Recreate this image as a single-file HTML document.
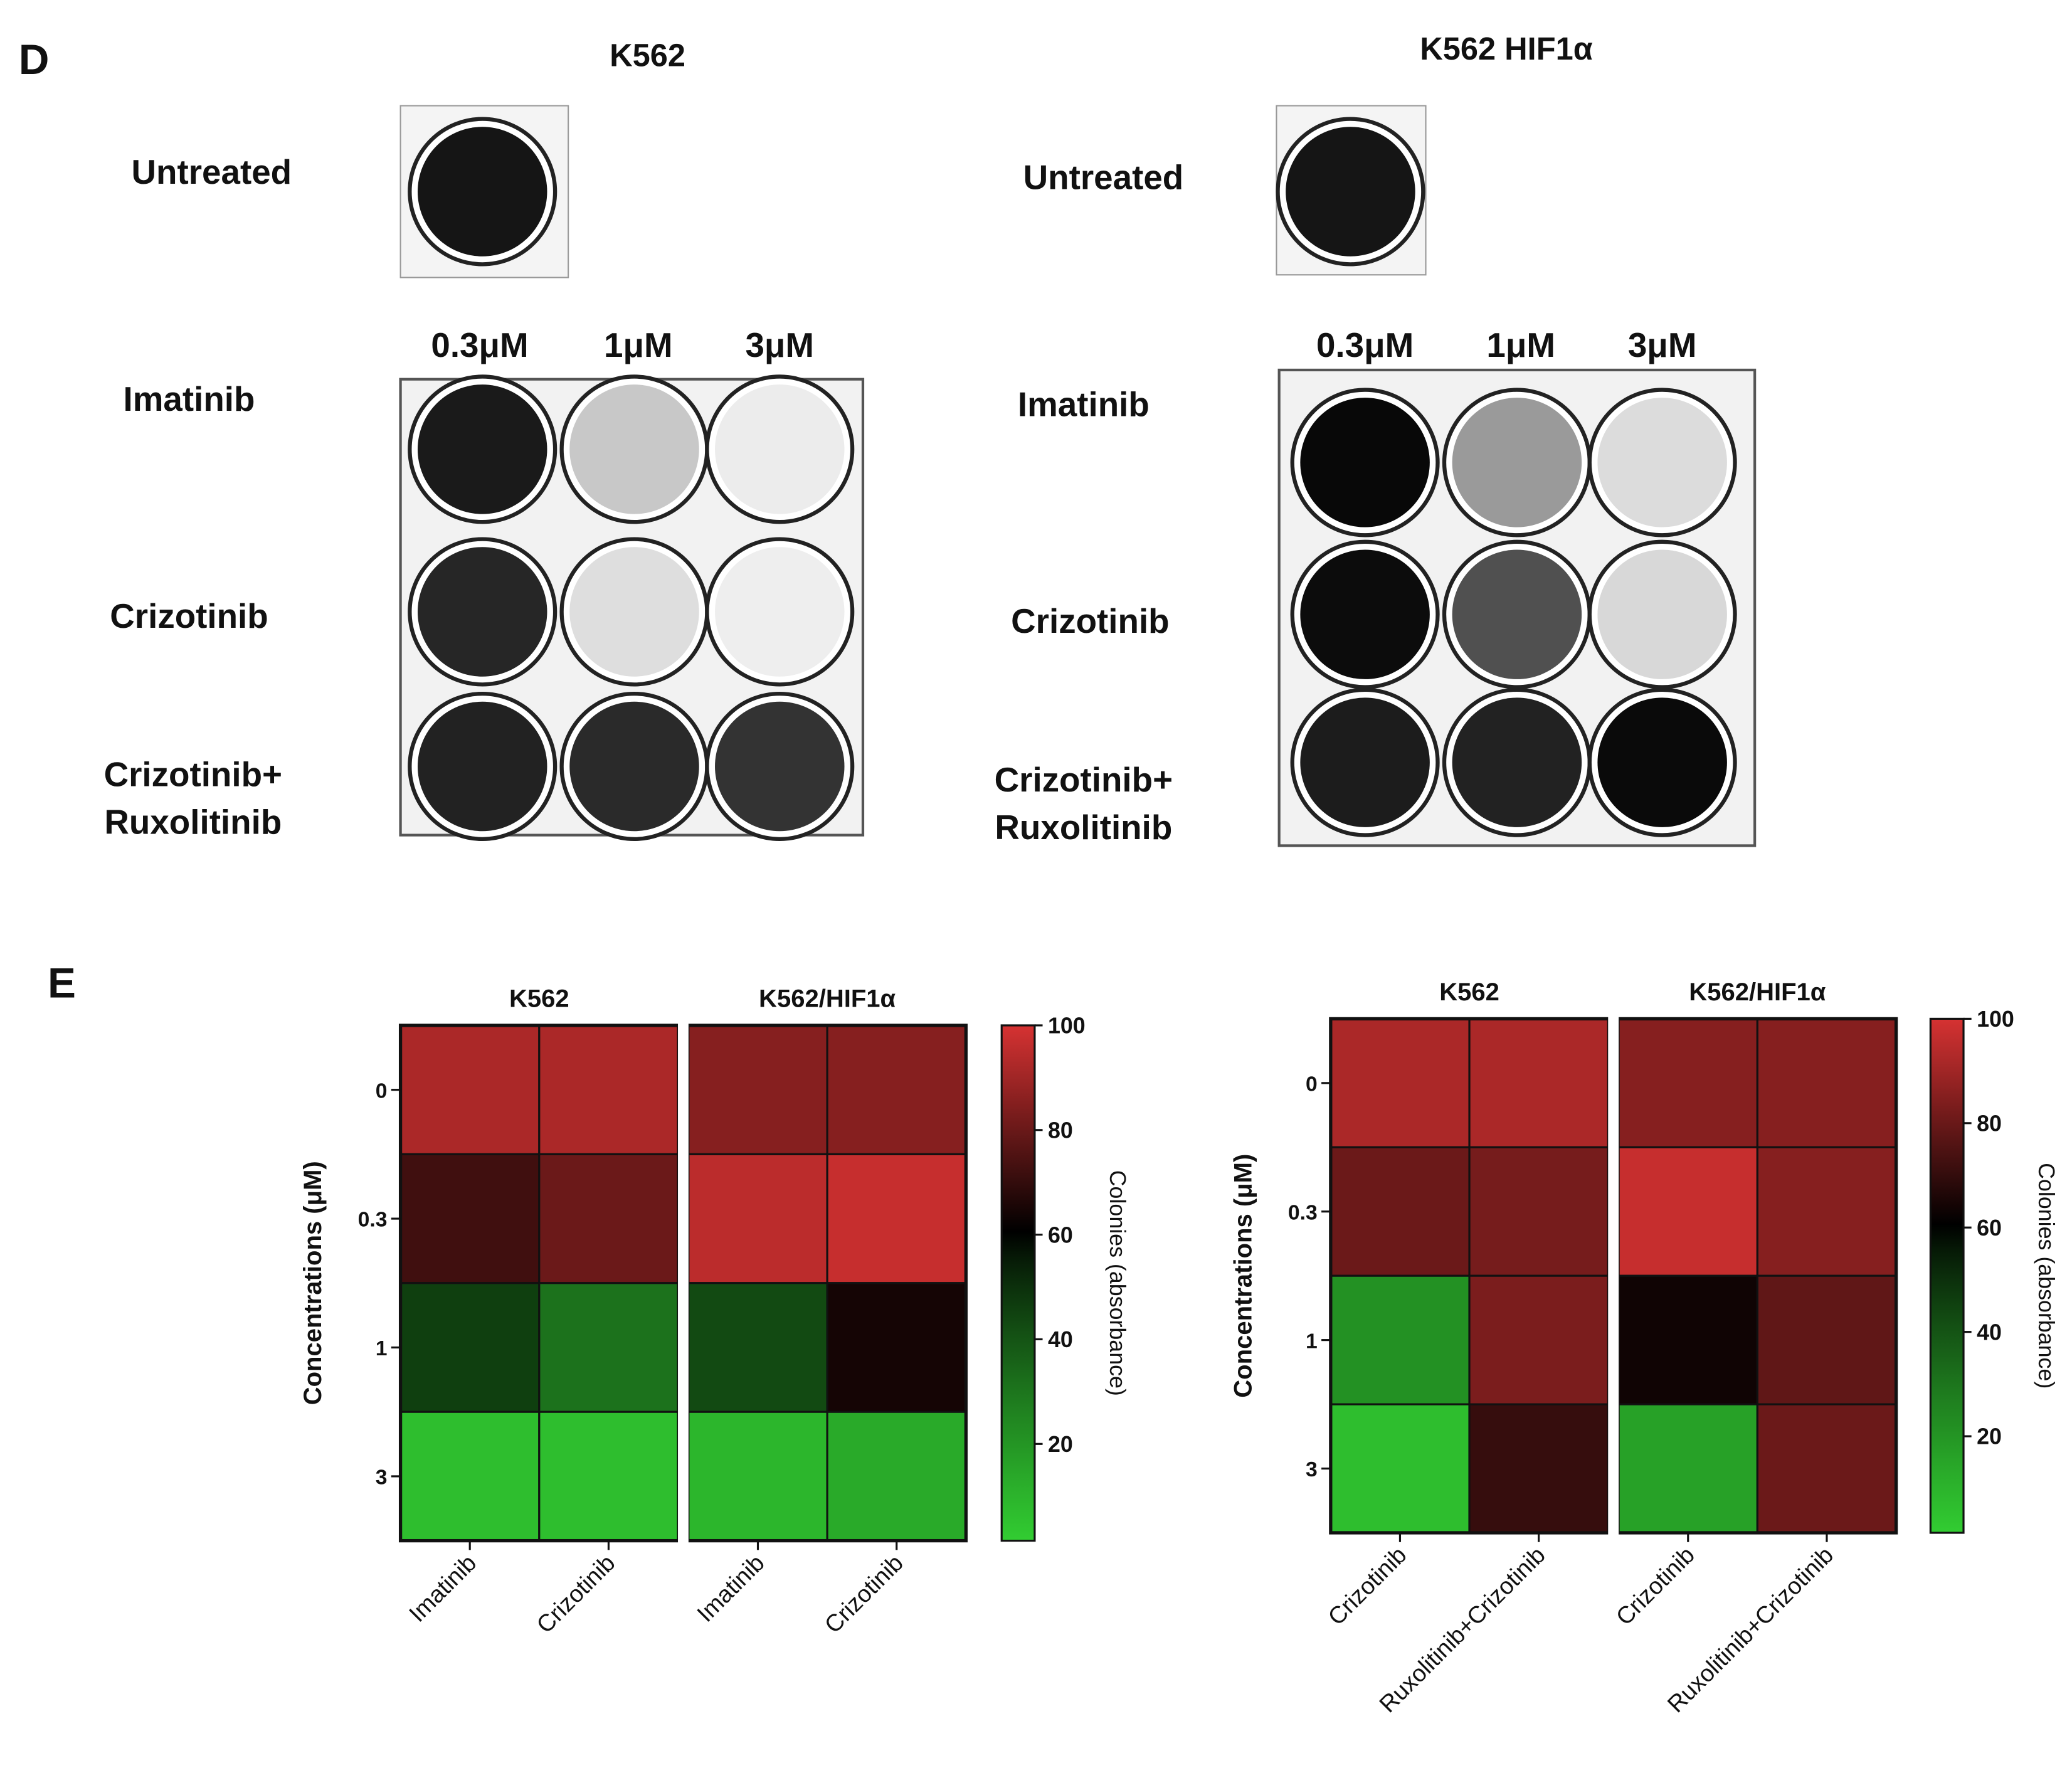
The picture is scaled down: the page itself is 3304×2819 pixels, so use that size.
<!DOCTYPE html>
<html><head><meta charset="utf-8"><style>
html,body{margin:0;padding:0;background:#fff}
svg{display:block}
text{font-family:"Liberation Sans",sans-serif}
</style></head><body>
<svg id="fig" width="3304" height="2819" viewBox="0 0 1568 1338" xmlns="http://www.w3.org/2000/svg">
<rect width="1568" height="1338" fill="#fff"/>
<g font-weight="bold" fill="#111">
<text x="14" y="56" font-size="32">D</text>
<text x="490" y="50" font-size="24" text-anchor="middle">K562</text>
<text x="1140" y="45" font-size="24" text-anchor="middle">K562 HIF1α</text>
<g font-size="26" text-anchor="middle">
<text x="160" y="139">Untreated</text>
<text x="835" y="143">Untreated</text>
<text x="143" y="311">Imatinib</text>
<text x="143" y="475">Crizotinib</text>
<text x="146" y="595">Crizotinib+</text>
<text x="146" y="631">Ruxolitinib</text>
<text x="820" y="315">Imatinib</text>
<text x="825" y="479">Crizotinib</text>
<text x="820" y="599">Crizotinib+</text>
<text x="820" y="635">Ruxolitinib</text>
<text x="363" y="270">0.3μM</text>
<text x="483" y="270">1μM</text>
<text x="590" y="270">3μM</text>
<text x="1033" y="270">0.3μM</text>
<text x="1151" y="270">1μM</text>
<text x="1258" y="270">3μM</text>
</g>
<text x="36" y="755" font-size="32">E</text>
</g>
<g id="wells"></g>
<g id="heat"></g>
</svg>
<script>
const NS="http://www.w3.org/2000/svg";
const svg=document.getElementById('fig');
function mk(tag,attrs,parent){const e=document.createElementNS(NS,tag);for(const k in attrs)e.setAttribute(k,attrs[k]);(parent||svg).appendChild(e);return e;}
const wg=document.getElementById('wells');
mk('rect',{x:303,y:80,width:127,height:130,fill:'#f4f4f4',stroke:'#999','stroke-width':1},wg);
mk('rect',{x:966,y:80,width:113,height:128,fill:'#f4f4f4',stroke:'#999','stroke-width':1},wg);
mk('rect',{x:303,y:287,width:350,height:345,fill:'#f2f2f2',stroke:'#555','stroke-width':2},wg);
mk('rect',{x:968,y:280,width:360,height:360,fill:'#f2f2f2',stroke:'#555','stroke-width':2},wg);
const wellList=[[365,145,'#151515'],[1022,145,'#151515'],
[365,340,'#1a1a1a'],[480,340,'#c8c8c8'],[590,340,'#ececec'],
[365,463,'#262626'],[480,463,'#dedede'],[590,463,'#eeeeee'],
[365,580,'#222'],[480,580,'#2a2a2a'],[590,580,'#333'],
[1033,350,'#080808'],[1148,350,'#9a9a9a'],[1258,350,'#dcdcdc'],
[1033,465,'#0c0c0c'],[1148,465,'#505050'],[1258,465,'#d8d8d8'],
[1033,577,'#1c1c1c'],[1148,577,'#222'],[1258,577,'#0a0a0a']];
wellList.forEach((w,i)=>{
 const c=mk('circle',{cx:w[0],cy:w[1],r:55,fill:'#fff',stroke:'#222','stroke-width':3},wg);
 
 
 const d=mk('circle',{cx:w[0],cy:w[1],r:49,fill:w[2]},wg);
 
 
});

const rowLabels=['0','0.3','1','3'];
const cbTicks=[100,80,60,40,20];
const leftGroups=['K562','K562/HIF1α'];
const leftCols=['Imatinib','Crizotinib','Imatinib','Crizotinib'];
const leftValues=[[92,92,85,85],[72,80,95,97],[45,30,42,64],[5,5,8,12]];
const rightGroups=['K562','K562/HIF1α'];
const rightCols=['Crizotinib','Ruxolitinib+Crizotinib','Crizotinib','Ruxolitinib+Crizotinib'];
const rightValues=[[92,92,85,85],[80,82,97,85],[20,83,63,78],[5,70,15,80]];

function color(v){
 const R=[214,50,50],G=[50,205,50];
 let c;
 if(v>=60){const t=(v-60)/40;c=R.map(x=>Math.round(x*t));}
 else{const t=(60-v)/60;c=G.map(x=>Math.round(x*Math.pow(t,0.85)));}
 return `rgb(${c[0]},${c[1]},${c[2]})`;
}
const hg=document.getElementById('heat');
function heatmap(o){
 const {x0,y0,cw,ch,gap,cols,groups,vals,cbx,name}=o;
 const colX=j=>x0+j*cw+(j>=2?gap:0);
 const rowY=i=>y0+i*ch;
 const H=ch*4;
 vals.forEach((row,i)=>row.forEach((v,j)=>{
  const r=mk('rect',{x:colX(j),y:rowY(i),width:cw,height:ch,fill:color(v),stroke:'#111','stroke-width':1.5},hg);
  
  
 }));
 const fr=mk('rect',{x:x0,y:y0,width:4*cw+gap,height:H,fill:'none',stroke:'#111','stroke-width':2.5},hg);
 
 
 mk('rect',{x:x0+2*cw,y:y0-2,width:gap,height:H+4,fill:'#fff'},hg);
 groups.forEach((g,k)=>{
  const t=mk('text',{x:colX(2*k)+cw,y:y0-14,'font-size':19,'font-weight':'bold','text-anchor':'middle',fill:'#111'},hg);
  t.textContent=g;
  
  
 });
 rowLabels.forEach((l,i)=>{
  const y=rowY(i)+ch/2;
  mk('line',{x1:x0-7,x2:x0,y1:y,y2:y,stroke:'#111','stroke-width':1.5},hg);
  const t=mk('text',{x:x0-10,y:y+6,'font-size':16,'font-weight':'bold','text-anchor':'end',fill:'#111'},hg);
  t.textContent=l;
  
  
 });
 const yt=mk('text',{x:0,y:0,'font-size':19,'font-weight':'bold','text-anchor':'middle',fill:'#111',transform:`translate(${x0-60},${y0+H/2}) rotate(-90)`},hg);
 yt.textContent='Concentrations (μM)';
 
 
 cols.forEach((c,j)=>{
  const x=colX(j)+cw/2;
  mk('line',{x1:x,x2:x,y1:y0+H,y2:y0+H+7,stroke:'#111','stroke-width':1.5},hg);
  const t=mk('text',{x:0,y:0,'font-size':18,'text-anchor':'end',fill:'#111',transform:`translate(${x+6},${y0+H+18}) rotate(-45)`},hg);
  t.textContent=c;
  
  
 });
 const gid=name+'-grad';
 const defs=mk('defs',{},hg);
 const lg=mk('linearGradient',{id:gid,x1:0,y1:1,x2:0,y2:0},defs);
 for(let v=0;v<=100;v+=5){mk('stop',{offset:(v/100),'stop-color':color(v)},lg);}
 const vy=v=>y0+H*(100-v)/98.5;
 const cb=mk('rect',{x:cbx,y:y0,width:25,height:H,fill:`url(#${gid})`,stroke:'#111','stroke-width':1.5},hg);
 
 
 cbTicks.forEach(v=>{
  const y=vy(v);
  mk('line',{x1:cbx+25,x2:cbx+31,y1:y,y2:y,stroke:'#111','stroke-width':1.5},hg);
  const t=mk('text',{x:cbx+35,y:y+6,'font-size':17,'font-weight':'bold',fill:'#111'},hg);
  t.textContent=v;
  
  
 });
 const ct=mk('text',{x:0,y:0,'font-size':17,'text-anchor':'middle',fill:'#111',transform:`translate(${cbx+82},${y0+H/2}) rotate(90)`},hg);
 ct.textContent='Colonies (absorbance)';
 
 
}
heatmap({x0:303,y0:776,cw:105,ch:97.5,gap:8,cols:leftCols,groups:leftGroups,vals:leftValues,cbx:758,name:'left-heatmap'});
heatmap({x0:1007,y0:771,cw:105,ch:97.25,gap:8,cols:rightCols,groups:rightGroups,vals:rightValues,cbx:1461,name:'right-heatmap'});
</script>
</body></html>
